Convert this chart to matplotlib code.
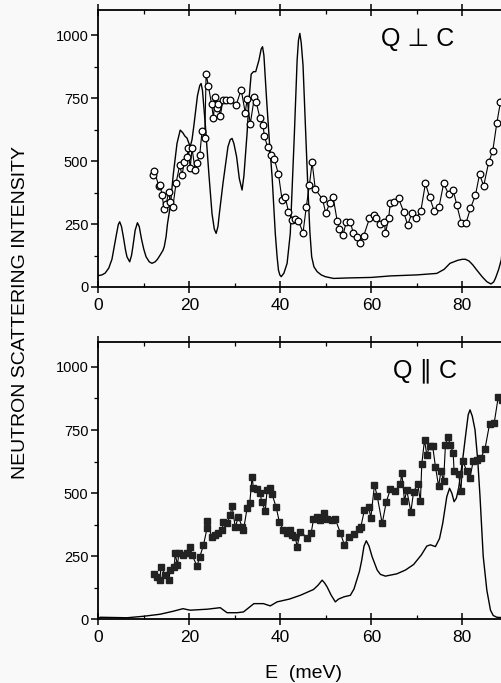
import numpy as np
import matplotlib
matplotlib.use("Agg")
import matplotlib.pyplot as plt
from matplotlib.ticker import MultipleLocator

plt.rcParams['font.family'] = ['Liberation Sans', 'DejaVu Sans']

# Q perpendicular to c: calculated spectrum (solid line)
perp_calc_E = [0.0, 0.8, 1.5, 2.3, 3.0, 3.6, 4.0, 4.4, 4.7, 5.1, 5.5, 6.0, 6.3, 6.9, 7.3,
               7.6, 8.1, 8.6, 9.0, 9.5, 10.0, 10.5, 11.2, 11.8, 12.5, 13.0, 13.6, 14.2,
               14.5, 14.9, 15.2, 15.8, 16.5, 17.3, 18.0, 18.6, 19.0, 19.5, 20.2, 20.6,
               21.0, 21.8, 22.3, 22.6, 22.9, 23.5, 24.3, 25.0, 25.5, 25.9, 26.3, 26.6,
               27.4, 28.5, 29.0, 29.4, 29.8, 30.4, 31.0, 31.6, 32.0, 32.7, 33.2, 33.6,
               34.1, 34.6, 35.3, 35.8, 36.1, 36.4, 37.0, 37.6, 38.2, 38.9, 39.3, 39.6,
               39.9, 40.2, 40.8, 41.5, 42.2, 43.1, 43.7, 44.0, 44.3, 44.6, 45.0, 45.5,
               46.0, 46.5, 46.9, 47.4, 48.1, 49.0, 49.9, 51.7, 55.0, 60.0, 64.2, 70.0,
               74.4, 76.0, 77.3, 79.0, 80.0, 80.7, 81.5, 82.3, 83.2, 84.4, 85.4, 86.3,
               86.9, 87.3, 88.0, 88.6, 89.2, 90.0]
perp_calc_I = [45, 48, 55, 75, 110, 170, 210, 248, 259, 240, 200, 145, 120, 100, 125,
               160, 225, 255, 240, 190, 150, 120, 100, 94, 100, 110, 127, 145,
               160, 200, 250, 319, 450, 570, 623, 612, 600, 591, 557, 585,
               640, 760, 800, 808, 780, 650, 450, 290, 230, 213, 240, 290,
               411, 557, 585, 590, 570, 517, 430, 385, 440, 610, 760, 845,
               855, 855, 900, 945, 954, 920, 742, 580, 438, 213, 120, 67,
               48, 41, 55, 94, 213, 610, 900, 980, 1007, 970, 880, 650,
               424, 220, 120, 80, 61, 48, 41, 34, 36, 38, 44, 48,
               54, 70, 94, 106, 110, 110, 103, 88, 67, 40, 21, 12,
               20, 35, 70, 110, 250, 500]

# Q perpendicular to c: measured intensity (open circles)
perp_obs_E = [12.0, 12.3, 13.3, 13.6, 14.0, 14.5, 14.9, 15.5, 15.8, 16.4, 17.1, 17.9, 18.4,
              18.9, 19.5, 19.8, 20.2, 20.6, 21.3, 21.7, 22.3, 22.8, 23.4, 23.7, 24.2, 24.9,
              25.3, 25.7, 26.1, 26.4, 26.8, 27.4, 28.1, 28.9, 30.3, 31.4, 32.3, 32.7, 33.4,
              34.3, 34.7, 35.5, 36.2, 36.5, 37.2, 37.9, 38.7, 39.6, 40.4, 41.1, 41.8, 42.6,
              43.3, 44.0, 45.0, 45.7, 46.4, 47.0, 47.7, 49.3, 50.0, 50.9, 51.6, 52.5, 53.0,
              53.8, 54.5, 55.4, 56.0, 56.8, 57.6, 58.3, 59.6, 60.5, 61.1, 62.0, 62.9, 63.1,
              63.8, 64.2, 65.1, 66.0, 67.1, 68.0, 68.9, 69.9, 70.9, 71.9, 72.8, 73.8, 74.9,
              75.9, 77.0, 78.0, 78.8, 79.8, 80.8, 81.8, 82.9, 83.8, 84.7, 85.8, 86.7, 87.6,
              88.4, 89.3]
perp_obs_I = [444, 461, 401, 405, 365, 308, 329, 378, 336, 319, 414, 484, 444,
              497, 517, 550, 471, 550, 464, 493, 524, 619, 590, 845, 798, 726,
              673, 755, 709, 727, 678, 742, 742, 742, 722, 784, 692, 745, 647,
              753, 735, 673, 643, 599, 557, 524, 507, 448, 345, 356, 299, 266,
              270, 262, 216, 316, 405, 495, 388, 348, 292, 335, 358, 263, 229,
              206, 259, 259, 216, 200, 176, 202, 272, 286, 272, 250, 259, 213,
              272, 335, 339, 352, 299, 246, 292, 272, 303, 411, 358, 303, 319,
              411, 369, 385, 325, 253, 253, 312, 365, 448, 401, 495, 541, 652,
              735, 800]

# Q parallel to c: calculated spectrum (solid line)
par_calc_E = [0.0, 0.4, 6.3, 10.0, 13.6, 16.5, 18.6, 20.2, 24.0, 26.8, 28.3, 30.5, 31.9,
              34.2, 36.3, 37.8, 39.3, 42.0, 44.4, 47.3, 48.3, 49.2, 49.7, 50.3, 51.2,
              52.1, 52.8, 54.0, 55.4, 56.2, 56.8, 57.4, 57.9, 58.4, 58.9, 59.5, 60.2,
              61.3, 62.0, 63.1, 65.6, 67.5, 69.3, 71.0, 72.2, 73.0, 74.1, 75.0, 75.7,
              76.6, 77.2, 77.7, 78.2, 78.7, 79.2, 80.0, 80.7, 81.3, 81.7, 82.2, 82.8,
              83.4, 83.9, 84.6, 85.4, 86.2, 86.8, 87.6, 90.0]
par_calc_I = [2, 8, 6, 12, 20, 32, 42, 36, 40, 46, 26, 26, 29,
              62, 62, 53, 69, 80, 95, 118, 135, 155, 145, 128, 95,
              69, 80, 89, 95, 120, 155, 190, 234, 290, 311, 290, 247,
              195, 178, 171, 180, 195, 217, 255, 290, 295, 288, 320, 380,
              486, 519, 500, 466, 480, 519, 620, 724, 810, 830, 805, 751,
              630, 486, 250, 115, 36, 15, 8, 5]

# Q parallel to c: measured intensity (filled squares)
par_obs_E = [12.2, 12.9, 13.5, 13.8, 14.7, 15.5, 15.8, 16.7, 16.9, 17.4, 17.7, 18.6, 19.5,
             20.2, 20.6, 21.7, 22.3, 23.1, 23.9, 24.0, 24.9, 25.7, 26.4, 27.2, 27.5, 28.3,
             29.0, 29.4, 30.1, 30.8, 31.6, 31.9, 32.7, 33.3, 33.8, 34.1, 34.9, 35.6, 35.9,
             36.7, 37.1, 37.8, 38.2, 39.1, 39.8, 40.7, 41.5, 42.2, 42.6, 43.3, 43.7, 44.4,
             45.9, 46.8, 47.3, 48.1, 48.8, 49.5, 50.3, 51.4, 52.1, 53.2, 54.1, 55.0, 56.1,
             57.2, 57.7, 58.5, 59.4, 59.9, 60.7, 61.3, 62.4, 63.3, 64.2, 65.3, 66.4, 66.7,
             67.3, 67.8, 68.7, 69.3, 70.2, 70.8, 71.1, 71.7, 72.2, 72.8, 73.5, 74.1, 74.8,
             75.3, 75.9, 76.3, 76.8, 77.4, 78.0, 78.2, 79.2, 79.7, 80.1, 81.0, 81.7, 82.4,
             83.2, 84.1, 85.0, 86.0, 87.0, 87.9, 88.7]
par_obs_I = [179, 167, 155, 208, 175, 155, 194, 208, 261, 214, 261, 255, 261,
             287, 255, 211, 247, 293, 360, 390, 327, 335, 342, 355, 386, 380,
             413, 449, 366, 406, 366, 353, 439, 462, 565, 519, 515, 499, 466,
             430, 512, 519, 496, 443, 386, 353, 342, 353, 335, 327, 287, 347,
             324, 343, 396, 406, 393, 422, 396, 393, 396, 343, 294, 327, 337,
             356, 366, 433, 446, 403, 532, 488, 380, 466, 515, 509, 538, 581,
             469, 512, 426, 505, 536, 468, 615, 711, 651, 685, 685, 605, 527,
             587, 548, 691, 724, 691, 658, 587, 574, 508, 627, 587, 561, 627,
             631, 640, 676, 774, 776, 880, 870]

y_ticks = [0, 250, 500, 750, 1000]
x_ticks = [0, 20, 40, 60, 80]

bg = '#f9f9f9'
fig = plt.figure(figsize=(5.02, 6.83), dpi=100, facecolor=bg)

ax_top = fig.add_axes([0.1958, 0.5798, 0.8157, 0.4056])
ax_bot = fig.add_axes([0.1958, 0.0933, 0.8157, 0.4064])

def style_axis(ax):
    ax.set_facecolor(bg)
    ax.set_xlim(0, 90)
    ax.set_ylim(0, 1100)
    ax.set_xticks(x_ticks)
    ax.set_yticks(y_ticks)
    ax.xaxis.set_minor_locator(MultipleLocator(10))
    ax.yaxis.set_minor_locator(MultipleLocator(125))
    for s in ax.spines.values():
        s.set_linewidth(1.3)
    ax.tick_params(axis='x', which='major', direction='inout', length=8, width=1.1,
                   top=True, labelsize=12.5, pad=4)
    ax.tick_params(axis='x', which='minor', direction='in', length=3, width=0.9, top=True)
    ax.tick_params(axis='y', which='major', direction='out', length=5, width=1.1,
                   labelsize=10.5, pad=2)
    ax.tick_params(axis='y', which='minor', direction='out', length=3, width=0.9)
    ax.tick_params(axis='y', which='both', right=True)

style_axis(ax_top)
style_axis(ax_bot)

ax_top.plot(perp_calc_E, perp_calc_I, color='black', lw=1.0, zorder=2)
ax_top.plot(perp_obs_E, perp_obs_I, color='black', lw=0.8, marker='o', ms=4.8,
            mfc='white', mec='black', mew=0.9, zorder=3)

ax_bot.plot(par_calc_E, par_calc_I, color='black', lw=1.0, zorder=2)
ax_bot.plot(par_obs_E, par_obs_I, color='black', lw=0.8, marker='s', ms=4.3,
            mfc='#222222', mec='#222222', zorder=3)

ax_top.text(0.78, 0.895, 'Q \u22a5 C', transform=ax_top.transAxes, fontsize=18,
            ha='center', va='center')
ax_bot.text(0.797, 0.895, 'Q \u2225 C', transform=ax_bot.transAxes, fontsize=18,
            ha='center', va='center')

fig.text(0.04, 0.542, 'NEUTRON SCATTERING INTENSITY', rotation=90, fontsize=14,
         ha='center', va='center')
fig.text(0.6036, 0.0146, 'E  (meV)', fontsize=14, ha='center', va='center')

fig.savefig('out.png', dpi=100, facecolor=bg)
